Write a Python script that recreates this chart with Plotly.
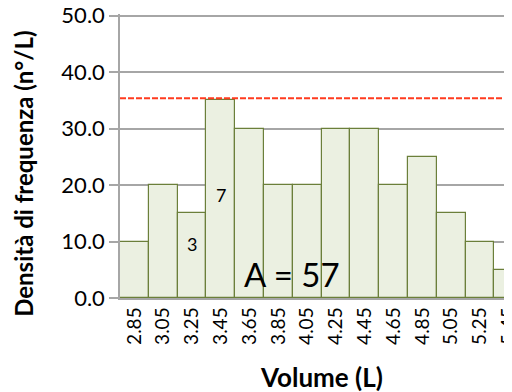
import plotly.graph_objects as go

volumes = ['2.85', '3.05', '3.25', '3.45', '3.65', '3.85', '4.05',
           '4.25', '4.45', '4.65', '4.85', '5.05', '5.25', '5.45']
densita = [10, 20, 15, 35, 30, 20, 20, 30, 30, 20, 25, 15, 10, 5]
soglia = 35.4

FONT = 'Lato'

fig = go.Figure(go.Bar(
    x=volumes, y=densita, width=1,
    marker=dict(color='#ebf0e1', line=dict(color='#6b7f3a', width=1.2)),
))

fig.add_shape(type='line', xref='paper', yref='y', x0=0, x1=1, y0=soglia, y1=soglia,
              line=dict(color='#ff3b1f', width=2, dash='6px,2px'))

# numeric-looking categories: annotate by index
fig.add_annotation(x=2, y=9.6, text='3', showarrow=False,
                   font=dict(size=18, color='black', family=FONT))
fig.add_annotation(x=3, y=18.2, text='7', showarrow=False,
                   font=dict(size=18, color='black', family=FONT))
fig.add_annotation(x=5.46, y=4.2, text='A = 57', showarrow=False,
                   font=dict(size=33, color='black', family=FONT))

fig.add_annotation(xref='paper', yref='paper', x=-0.245, y=0.437, textangle=-90,
                   xanchor='center', yanchor='middle',
                   text='<b>Densità di frequenza (n°/L)</b>', showarrow=False,
                   font=dict(size=24, color='black', family=FONT))
fig.add_annotation(xref='paper', yref='paper', x=0.513, y=-0.2765,
                   xanchor='center', yanchor='middle',
                   text='<b>Volume (L)</b>', showarrow=False,
                   font=dict(size=26, color='black', family=FONT))

# page body has an 8px margin, so the figure is 504x384 and shifted
fig.update_layout(
    width=504, height=384,
    margin=dict(l=112, r=0, t=6, b=94),
    plot_bgcolor='white', paper_bgcolor='white',
    font=dict(family=FONT, color='black'),
    showlegend=False,
    bargap=0,
)
fig.update_xaxes(
    type='category', range=[-0.5, 13.11], automargin=False,
    tickangle=-90, tickfont=dict(size=19),
    showgrid=False, showline=True, linecolor='#a6a6a6', linewidth=1.5,
    ticks='',
)
# range a touch above 50 so the top gridline is drawn
fig.update_yaxes(
    range=[0, 50.3], tickvals=[0, 10, 20, 30, 40, 50], tickformat='.1f',
    automargin=False, ticklabeloverflow='allow',
    tickfont=dict(size=22),
    showgrid=True, gridcolor='#a6a6a6', gridwidth=1.5,
    showline=True, linecolor='#a6a6a6', linewidth=1.5,
    ticks='outside', ticklen=9, tickcolor='#a6a6a6', tickwidth=1.5,
    zeroline=False,
)

fig.write_html("out.html")
